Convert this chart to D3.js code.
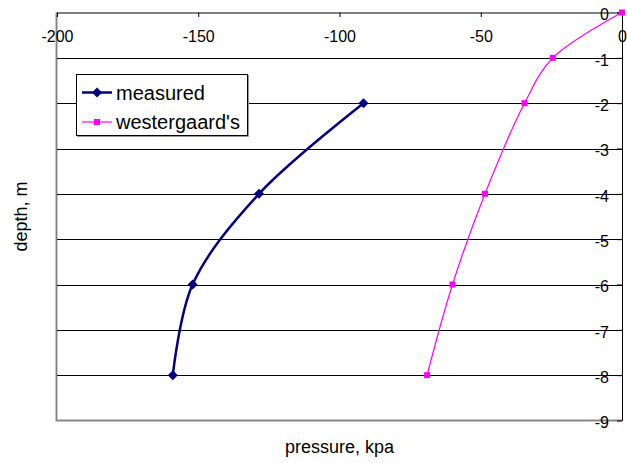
<!DOCTYPE html>
<html>
<head>
<meta charset="utf-8">
<script src="https://cdn.jsdelivr.net/npm/d3@7/dist/d3.min.js"></script>
<style>
  html, body { margin: 0; padding: 0; background: #fff; }
  svg { display: block; font-family: "Liberation Sans", Arial, sans-serif; }
</style>
</head>
<body>
<svg id="chart" width="627" height="463"></svg>
<script>
// Depth (m) at which each reading was taken
const measuredDepth = [-2, -4, -6, -8];
const measuredPressure = [-91.5, -128.5, -152, -159];

const westergaardDepth = [0, -1, -2, -4, -6, -8];
const westergaardPressure = [0, -24.5, -34.5, -48.5, -60, -69];

const pressureTicks = [-200, -150, -100, -50, 0];
const depthTicks = [0, -1, -2, -3, -4, -5, -6, -7, -8, -9];

const seriesNames = ["measured", "westergaard's"];

const svg = d3.select("#chart");
const plotLeft = 57, plotRight = 622, plotTop = 12.5, plotBottom = 420.5;

const x = d3.scaleLinear().domain([-200, 0]).range([plotLeft, plotRight]);
const y = d3.scaleLinear().domain([-9, 0]).range([plotBottom, plotTop]);

// plain hyphen-minus labels
const plainNumber = d => String(d);

// Plot-area frame (left and bottom edges)
svg.append("path")
  .attr("d", `M${plotLeft - 0.5},${plotTop} V${plotBottom} H${plotRight}`)
  .attr("fill", "none").attr("stroke", "#c8c8c8").attr("stroke-width", 3);
svg.append("path")
  .attr("d", `M${plotLeft - 0.5},${plotTop} V${plotBottom} H${plotRight}`)
  .attr("fill", "none").attr("stroke", "#808080").attr("stroke-width", 1);

// Horizontal gridlines at each metre of depth
svg.append("g")
  .selectAll("line")
  .data(depthTicks.filter(d => d < 0 && d > -9))
  .join("line")
  .attr("x1", plotLeft).attr("x2", plotRight)
  .attr("y1", d => Math.round(y(d)) + 0.5).attr("y2", d => Math.round(y(d)) + 0.5)
  .attr("stroke", "#000").attr("stroke-width", 1);

// Pressure axis along the top, ticks pointing into the plot
const xAxis = svg.append("g")
  .attr("transform", `translate(0,${plotTop})`)
  .call(d3.axisBottom(x).tickValues(pressureTicks).tickSize(4.5).tickSizeOuter(0).tickPadding(14)
    .tickFormat(plainNumber));
xAxis.select(".domain").attr("stroke", "#000");
xAxis.selectAll("line").attr("stroke", "#000");
xAxis.selectAll("text").attr("font-size", 16).attr("font-family", "Liberation Sans, Arial, sans-serif").attr("fill", "#000");

// Depth axis along the right edge, labels inside the plot
const yAxis = svg.append("g")
  .attr("transform", `translate(${plotRight},0)`)
  .call(d3.axisLeft(y).tickValues(depthTicks).tickSize(5).tickSizeOuter(0).tickPadding(8)
    .tickFormat(plainNumber));
yAxis.select(".domain").attr("stroke", "#000");
yAxis.selectAll("line").attr("stroke", "#000");
yAxis.selectAll("text").attr("font-size", 16).attr("dy", "0.45em")
  .attr("font-family", "Liberation Sans, Arial, sans-serif").attr("fill", "#000");

// Axis titles
svg.append("text")
  .attr("x", (plotLeft + plotRight) / 2).attr("y", 453)
  .attr("text-anchor", "middle").attr("font-size", 18).attr("fill", "#000")
  .text("pressure, kpa");
svg.append("text")
  .attr("transform", `translate(27,${(plotTop + plotBottom) / 2}) rotate(-90)`)
  .attr("text-anchor", "middle").attr("font-size", 18).attr("fill", "#000")
  .text("depth, m");

const line = d3.line().curve(d3.curveCatmullRom.alpha(0.5));

// Westergaard's theoretical distribution
const westPts = westergaardDepth.map((d, i) => [x(westergaardPressure[i]), y(d)]);
svg.append("path")
  .attr("d", line(westPts))
  .attr("fill", "none").attr("stroke", "#ff00ff").attr("stroke-width", 1.2);
svg.append("g").selectAll("rect")
  .data(westPts).join("rect")
  .attr("x", d => d[0] - 3).attr("y", d => d[1] - 3)
  .attr("width", 6).attr("height", 6).attr("fill", "#ff00ff");

// Measured distribution
const measPts = measuredDepth.map((d, i) => [x(measuredPressure[i]), y(d)]);
svg.append("path")
  .attr("d", line(measPts))
  .attr("fill", "none").attr("stroke", "#000080").attr("stroke-width", 2.5);
const diamond = d3.symbol().type(d3.symbolSquare).size(50);
svg.append("g").selectAll("path")
  .data(measPts).join("path")
  .attr("transform", d => `translate(${d[0]},${d[1]}) rotate(45)`)
  .attr("d", diamond)
  .attr("fill", "#000080");

// Legend
const lg = svg.append("g");
lg.append("rect")
  .attr("x", 76.5).attr("y", 74.5).attr("width", 171).attr("height", 61)
  .attr("fill", "#fff").attr("stroke", "#000").attr("stroke-width", 1);
lg.append("path")
  .attr("d", "M77,136.5 H248.5 V75")
  .attr("fill", "none").attr("stroke", "#9a9a9a").attr("stroke-width", 1);
const legendRows = [
  { name: seriesNames[0], color: "#000080", width: 2.5, y: 92.5 },
  { name: seriesNames[1], color: "#ff00ff", width: 1.2, y: 122 }
];
legendRows.forEach((r, i) => {
  lg.append("line")
    .attr("x1", 82).attr("x2", 112).attr("y1", r.y).attr("y2", r.y)
    .attr("stroke", r.color).attr("stroke-width", r.width);
  if (i === 0) {
    lg.append("path")
      .attr("transform", `translate(97,${r.y}) rotate(45)`)
      .attr("d", diamond)
      .attr("fill", r.color);
  } else {
    lg.append("rect")
      .attr("x", 94).attr("y", r.y - 3).attr("width", 6).attr("height", 6)
      .attr("fill", r.color);
  }
  lg.append("text")
    .attr("x", 116).attr("y", r.y + 7)
    .attr("font-size", 20).attr("fill", "#000")
    .text(r.name);
});
</script>
</body>
</html>
